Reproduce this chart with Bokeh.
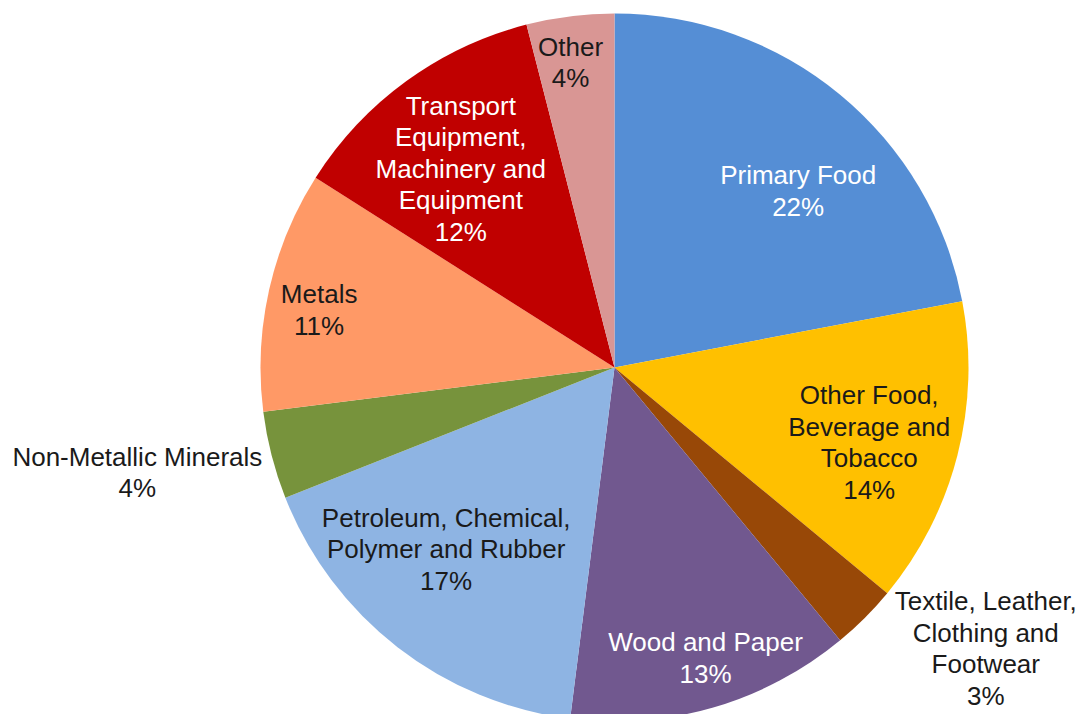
import math
from bokeh.plotting import figure
from bokeh.models import Range1d, ColumnDataSource
from bokeh.core.properties import value
from bokeh.embed import file_html
from bokeh.resources import INLINE

# ---- data ----
categories = [
    "Primary Food",
    "Other Food,\nBeverage and\nTobacco",
    "Textile, Leather,\nClothing and\nFootwear",
    "Wood and Paper",
    "Petroleum, Chemical,\nPolymer and Rubber",
    "Non-Metallic Minerals",
    "Metals",
    "Transport\nEquipment,\nMachinery and\nEquipment",
    "Other",
]
shares = [22, 14, 3, 13, 17, 4, 11, 12, 4]

# ---- styles ----
colors = ["#558ED5", "#FFC000", "#984807", "#71588F", "#8EB4E3",
          "#77933C", "#FF9966", "#C00000", "#D99694"]
text_colors = ["white", "#1a1a1a", "#1a1a1a", "white", "#1a1a1a",
               "#1a1a1a", "#1a1a1a", "white", "#1a1a1a"]
label_radius = [0.72, 0.75, 1.315, 0.86, 0.70, 1.38, 0.85, 0.71, 0.87]
label_angle_shift = [6.5, 2.0, -7.9, -1.2, 5.0, 2.0, -1.6, -1.7, -1.0]

W, H = 1076, 714
CX, CY, R = 614, -367, 354   # plot coordinates (1 unit = 1 px)

p = figure(width=W, height=H, output_backend="svg", toolbar_location=None,
           x_range=Range1d(0, W), y_range=Range1d(-H, 0),
           min_border=0, outline_line_color=None)
p.axis.visible = False
p.grid.visible = False

total = float(sum(shares))
starts, ends, lx, ly, labels = [], [], [], [], []
cum = 0.0
for c, s, rf, da in zip(categories, shares, label_radius, label_angle_shift):
    a0 = math.pi / 2 - 2 * math.pi * cum / total
    a1 = math.pi / 2 - 2 * math.pi * (cum + s) / total
    starts.append(a0)
    ends.append(a1)
    mid = (cum + s / 2) / total * 360.0 + da
    lx.append(CX + rf * R * math.sin(math.radians(mid)))
    ly.append(CY + rf * R * math.cos(math.radians(mid)))
    labels.append(f"{c}\n{s}%")
    cum += s

src = ColumnDataSource(dict(start=starts, end=ends, color=colors))
p.wedge(x=CX, y=CY, radius=R, start_angle="start", end_angle="end",
        direction="clock", fill_color="color", line_color=None, source=src)

tsrc = ColumnDataSource(dict(x=lx, y=ly, text=labels, tc=text_colors))
p.text(x="x", y="y", text="text", source=tsrc, text_color="tc",
       text_font=value("Liberation Sans"), text_font_size="26px",
       text_align="center", text_baseline="middle", text_line_height=1.05)

open("out.html", "w").write(file_html(p, INLINE))
